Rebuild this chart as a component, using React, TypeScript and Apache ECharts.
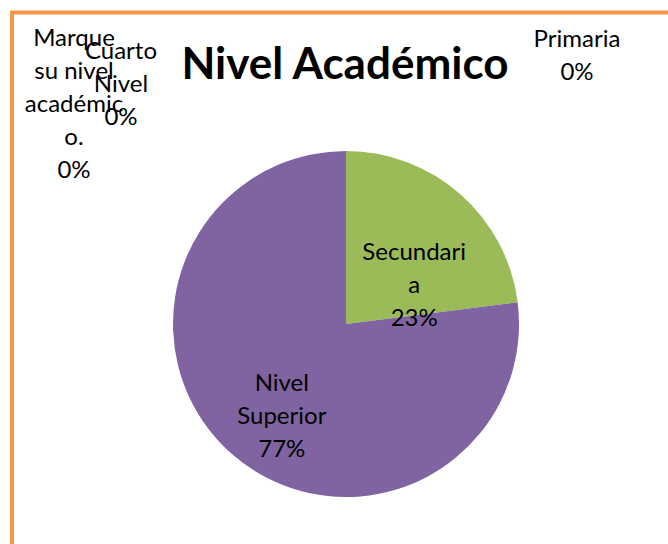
import React, { useEffect, useRef } from "react";
import * as echarts from "echarts";

const categories = ["Primaria", "Secundaria", "Nivel Superior", "Cuarto Nivel", "Marque su nivel académico."];
const values = [0, 23, 77, 0, 0];
const wrappedLabels = ["Primaria", "Secundari\na", "Nivel\nSuperior", "Cuarto\nNivel", "Marque\nsu nivel\nacadémic\no."];
const colors = ["#4F81BD", "#9BBB59", "#8064A2", "#4BACC6", "#F79646"];
const titleText = "Nivel Académico";

const FONT = "Lato, 'Noto Sans', sans-serif";

export default function App() {
  const ref = useRef<HTMLDivElement>(null);
  useEffect(() => {
    if (!ref.current) return;
    const chart = echarts.init(ref.current, undefined, { renderer: "svg" });
    const total = values.reduce((a, b) => a + b, 0);
    const pct = (v: number) => Math.round((v / total) * 100) + "%";
    const insideOffsets: Record<number, number[]> = { 1: [9, 27], 2: [-5, 23] };
    const outsidePos: Record<number, number[]> = { 0: [577, 54], 3: [121, 82], 4: [74, 102] };

    const data = categories.map((name, i) => ({
      name,
      value: values[i],
      itemStyle: { color: colors[i], borderWidth: 0 },
      label: values[i] > 0
        ? { show: true, position: "inside", offset: insideOffsets[i] || [0, 0] }
        : { show: false },
    }));

    const zeroTexts = categories
      .map((_, i) => i)
      .filter((i) => values[i] === 0)
      .map((i) => ({
        type: "text",
        z: 10,
        style: {
          text: wrappedLabels[i] + "\n" + pct(values[i]),
          x: outsidePos[i][0],
          y: outsidePos[i][1],
          align: "center",
          verticalAlign: "middle",
          fontFamily: FONT,
          fontSize: 24,
          lineHeight: 33,
          fill: "#000",
        },
      }));

    chart.setOption({
      animation: false,
      backgroundColor: "#fff",
      graphic: [
        {
          type: "rect",
          shape: { x: 12, y: 12.5, width: 700, height: 600 },
          style: { fill: "none", stroke: "#F79646", lineWidth: 4 },
        },
        {
          type: "text",
          style: {
            text: titleText,
            x: 345,
            y: 62,
            align: "center",
            verticalAlign: "middle",
            fontFamily: FONT,
            fontWeight: "bold",
            fontSize: 44,
            fill: "#000",
          },
        },
        ...zeroTexts,
      ],
      series: [
        {
          type: "pie",
          center: [346, 324],
          radius: 173,
          startAngle: 90,
          clockwise: true,
          minAngle: 0,
          avoidLabelOverlap: false,
          label: {
            color: "#000",
            fontFamily: FONT,
            fontSize: 24,
            lineHeight: 33,
            formatter: (p: any) => wrappedLabels[p.dataIndex] + "\n" + pct(p.value),
          },
          labelLine: { show: false },
          emphasis: { disabled: true },
          data,
        },
      ],
    });
    return () => chart.dispose();
  }, []);
  return (
    <div
      ref={ref}
      style={{ position: "fixed", left: 0, top: 0, width: 668, height: 544, background: "#fff" }}
    />
  );
}
